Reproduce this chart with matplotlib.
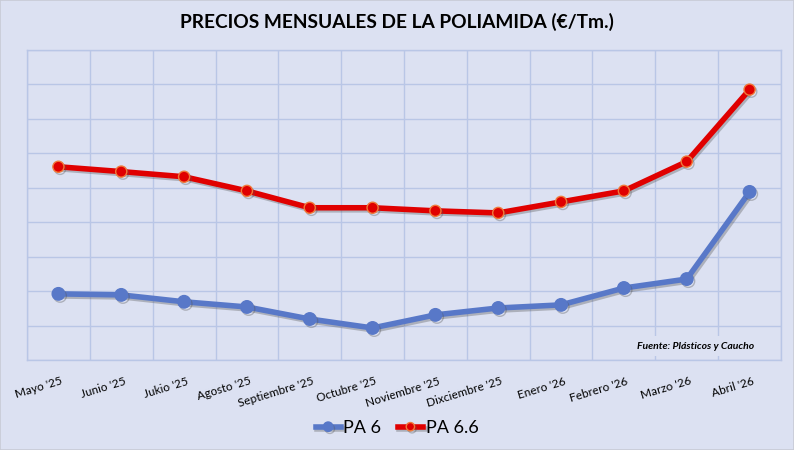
import matplotlib.pyplot as plt
import matplotlib.patheffects as pe
import matplotlib.transforms as mtransforms
import numpy as np

plt.rcParams['font.family'] = ['Lato', 'DejaVu Sans']

meses = ["Mayo '25", "Junio '25", "Jukio '25", "Agosto '25", "Septiembre '25",
         "Octubre '25", "Noviembre '25", "Dixciembre '25", "Enero '26",
         "Febrero '26", "Marzo '26", "Abril '26"]
# values (axis has no labels, 0-9 grid units -> €/Tm)
pa6 = [1884, 1878, 1838, 1808, 1738, 1686, 1762, 1802, 1820, 1918, 1970, 2476]
pa66 = [2622, 2594, 2564, 2482, 2384, 2384, 2366, 2354, 2418, 2482, 2652, 3070]

y_min, y_max, y_step = 1500, 3300, 200

bg = '#dce1f2'
grid_col = '#b9c6e6'
blue = '#5878c8'
red = '#e00000'

fig = plt.figure(figsize=(7.94, 4.5), dpi=100, facecolor=bg)
fig.patches.append(plt.Rectangle((0, 0), 1, 1, transform=fig.transFigure,
                                 fill=False, edgecolor='#c8cbd6', lw=1.2))
ax = fig.add_axes([27 / 794, 90 / 450, 754 / 794, 310 / 450])
ax.set_facecolor(bg)

x = np.arange(len(meses))
shadow = [pe.SimpleLineShadow(offset=(1.2, -1.5), shadow_color='#555555', alpha=0.35), pe.Normal()]

ax.plot(x, pa6, color=blue, lw=4, marker='o', ms=9, mfc=blue, mec=blue,
        label='PA 6', path_effects=shadow, zorder=3)
ax.plot(x, pa66, color=red, lw=4, marker='o', ms=8, mfc=red, mec='#f07a3a',
        mew=1, label='PA 6.6', path_effects=shadow, zorder=4)

ax.set_xlim(-0.5, len(meses) - 0.5)
ax.set_ylim(y_min, y_max)
ax.set_yticks(np.arange(y_min, y_max + 1, y_step))
ax.set_xticks(np.arange(-0.5, len(meses), 1), minor=True)
ax.set_xticks(x)
ax.set_xticklabels(meses, rotation=17, ha='right', va='center',
                   rotation_mode='anchor', fontsize=8.5)
ax.tick_params(axis='x', which='both', length=0, pad=15)
ax.tick_params(axis='y', length=0, labelleft=False)
shift = mtransforms.ScaledTranslation(4 / 100, 0, fig.dpi_scale_trans)
for lbl in ax.get_xticklabels():
    lbl.set_transform(lbl.get_transform() + shift)
ax.grid(axis='y', color=grid_col, lw=1)
ax.grid(axis='x', which='minor', color=grid_col, lw=1)
ax.set_axisbelow(True)
for s in ax.spines.values():
    s.set_color(grid_col)
    s.set_linewidth(1)

fig.text(0.5, 1 - 22 / 450, 'PRECIOS MENSUALES DE LA POLIAMIDA (€/Tm.)',
         ha='center', va='center', fontsize=13.8, fontweight='bold')

ax.text(0.965, 0.045, 'Fuente: Plásticos y Caucho', transform=ax.transAxes,
        ha='right', va='center', fontsize=7.5, fontweight='bold', style='italic',
        bbox=dict(facecolor=bg, edgecolor='none', pad=4), zorder=5)

fig.legend(loc='center', bbox_to_anchor=(0.5, 1 - 428 / 450), ncol=2,
           frameon=False, fontsize=13, handlelength=1.4, handletextpad=0.15,
           columnspacing=0.9, markerscale=0.75)

fig.savefig('out.png', dpi=100, facecolor=bg)
